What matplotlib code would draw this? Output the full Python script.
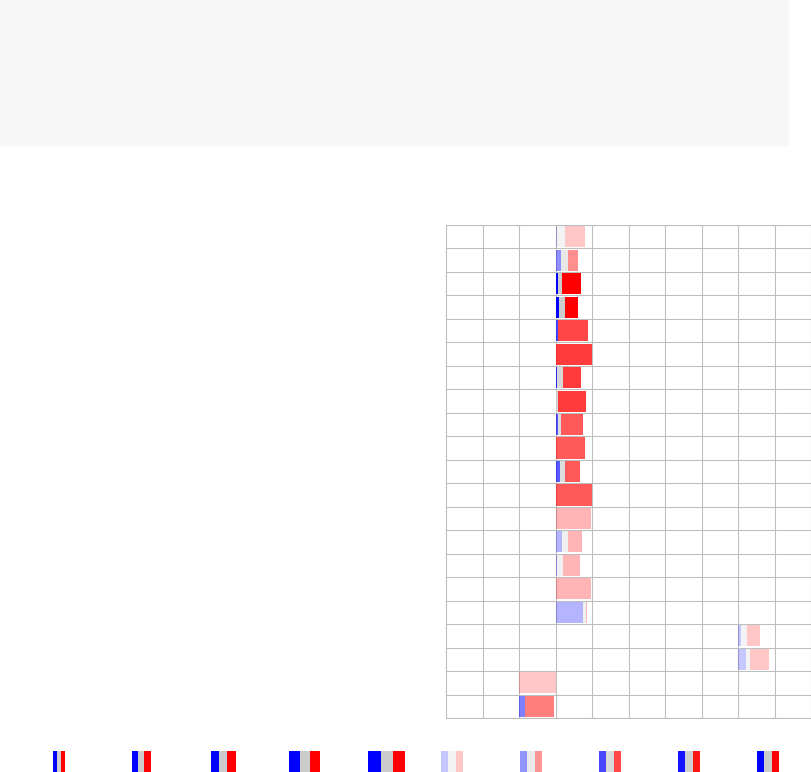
import matplotlib
matplotlib.use('Agg')
import matplotlib.pyplot as plt
import numpy as np

# 每行三段：蓝 / 灰 / 红，起点与透明度
starts = [0, 0, 0, 0, 0, 0, 0, 0, 0, 0, 0, 0, 0, 0, 0, 0, 0, 5, 5, -1, -1]
blue_vals = [0.05, 0.16, 0.06, 0.09, 0.06, 0.00, 0.04, 0.00, 0.06, 0.00, 0.12,
             0.00, 0.00, 0.17, 0.04, 0.00, 0.75, 0.07, 0.22, 0.00, 0.16]
gray_vals = [0.22, 0.19, 0.12, 0.16, 0.00, 0.00, 0.16, 0.07, 0.08, 0.00, 0.14,
             0.00, 0.00, 0.16, 0.16, 0.00, 0.08, 0.17, 0.11, 0.00, 0.01]
red_vals = [0.54, 0.27, 0.52, 0.38, 0.82, 1.00, 0.50, 0.77, 0.61, 0.81, 0.41,
            1.00, 0.97, 0.39, 0.47, 0.97, 0.02, 0.36, 0.52, 1.00, 0.80]
alphas = [0.22, 0.44, 1.0, 1.0, 0.72, 0.77, 0.77, 0.77, 0.65, 0.65, 0.65,
          0.65, 0.29, 0.29, 0.29, 0.29, 0.29, 0.22, 0.22, 0.22, 0.5]

# 图例：宽度（像素）与透明度
legend_widths = [12, 19, 25, 31, 37, 22, 22, 22, 22, 22]
legend_alphas = [1.0, 1.0, 1.0, 1.0, 1.0, 0.22, 0.42, 0.72, 0.92, 1.0]

BLUE, GRAY, RED = '#0000ff', '#cccccc', '#ff0000'
W, H = 812, 772

fig = plt.figure(figsize=(W / 100, H / 100), dpi=100)
fig.patch.set_facecolor('white')

# 顶部灰色标题区
fig.patches.append(plt.Rectangle((0, (H - 145) / H), 788 / W, 145 / H,
                                 transform=fig.transFigure, color='#f7f7f7', zorder=0))

ax = fig.add_axes([446 / W, (H - 718) / H, 365 / W, 493 / H])
n = len(starts)
y = np.arange(n)
b = np.array(blue_vals)
g = np.array(gray_vals)
r = np.array(red_vals)
s = np.array(starts)
for i in range(n):
    a = alphas[i]
    ax.barh(y[i], b[i], left=s[i], height=0.9, color=BLUE, alpha=a, zorder=2)
    ax.barh(y[i], g[i], left=s[i] + b[i], height=0.9, color=GRAY, alpha=a, zorder=2)
    ax.barh(y[i], r[i], left=s[i] + b[i] + g[i], height=0.9, color=RED, alpha=a, zorder=2)

ax.set_xlim(-3, 7)
ax.set_ylim(n - 0.5, -0.5)
ax.set_xticks(np.arange(-3, 8))
ax.set_yticks(np.arange(-0.5, n))
ax.grid(True, color='#bdbdbd', linewidth=0.75, zorder=0)
ax.set_axisbelow(True)
ax.tick_params(length=0, labelbottom=False, labelleft=False)
for sp in ax.spines.values():
    sp.set_color('#bdbdbd')
    sp.set_linewidth(0.75)

# 底部图例（前五个表示大小，后五个表示透明度）
lax = fig.add_axes([0, 0, 1, 21 / H])
lax.set_xlim(0, W)
lax.set_ylim(0, 1)
lax.axis('off')
for i, (w, a) in enumerate(zip(legend_widths, legend_alphas)):
    x0 = 53 + i * 78.8 if i < 5 else 441 + (i - 5) * 79
    third = w / 3
    lax.bar(x0, 1, width=third, align='edge', color=BLUE, alpha=a)
    lax.bar(x0 + third, 1, width=third, align='edge', color=GRAY, alpha=a)
    lax.bar(x0 + 2 * third, 1, width=third, align='edge', color=RED, alpha=a)

plt.savefig('out.png', dpi=100)
